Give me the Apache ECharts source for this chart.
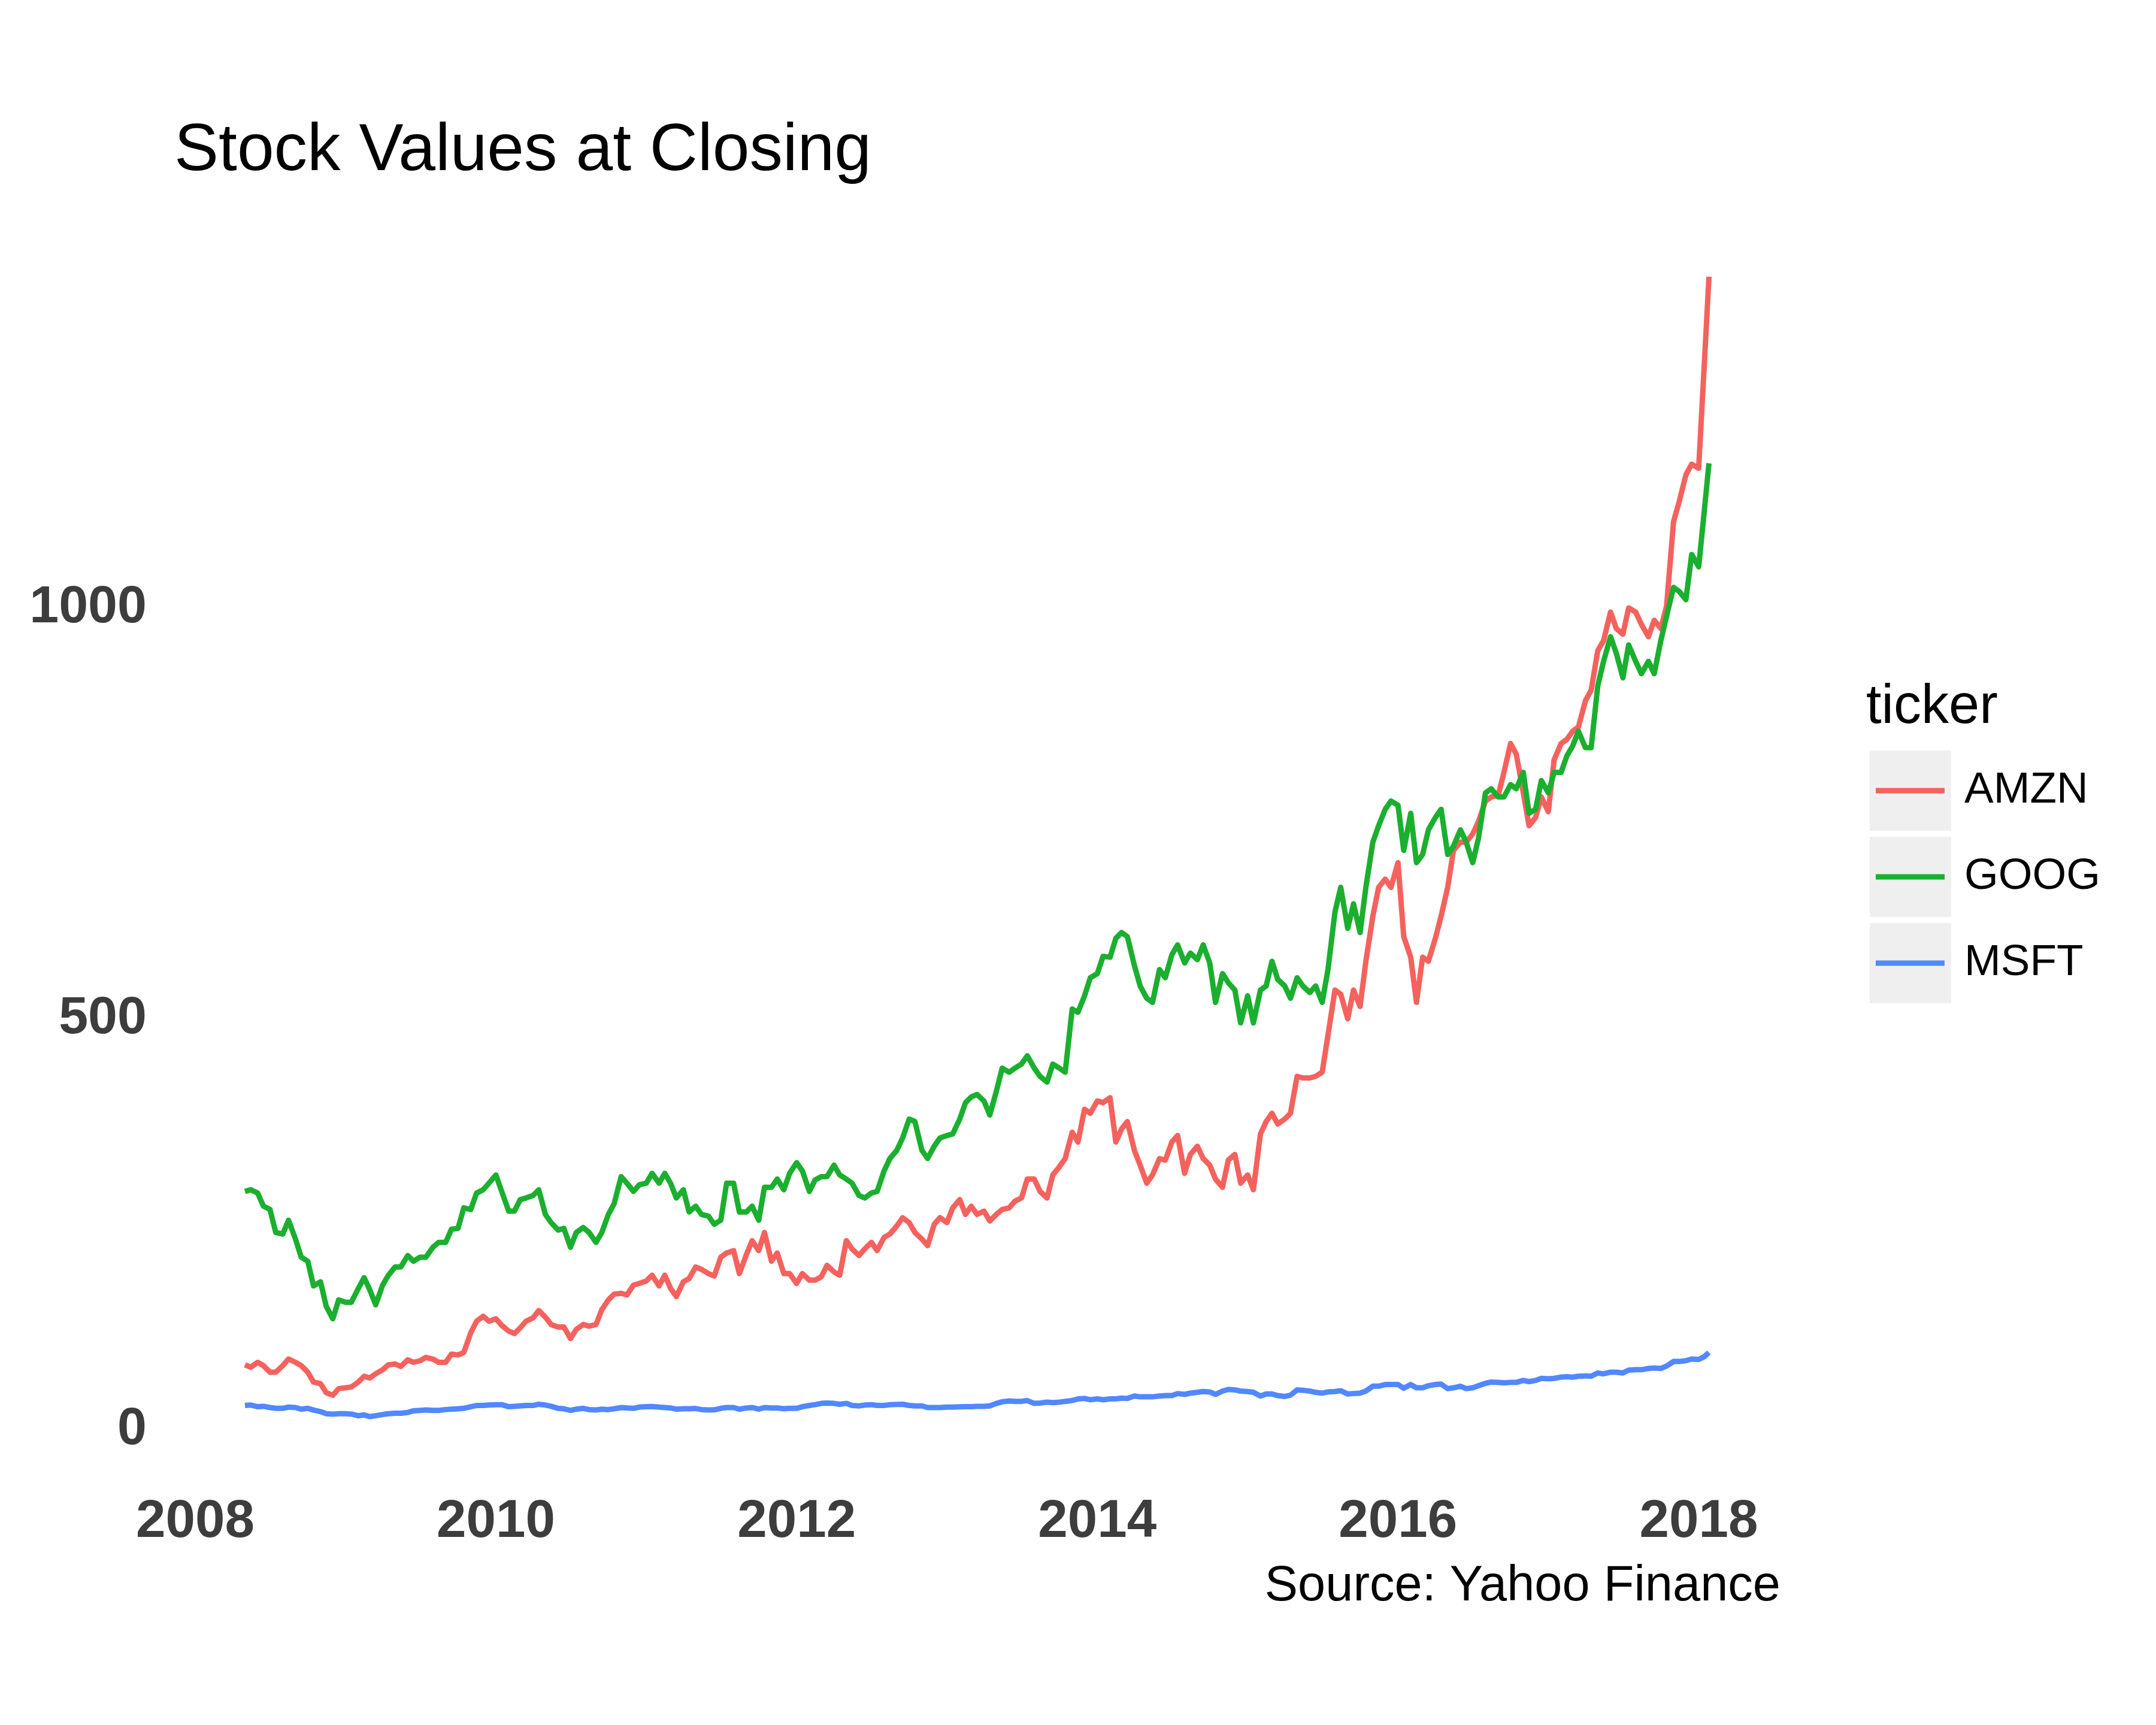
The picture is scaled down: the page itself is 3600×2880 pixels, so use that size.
<!DOCTYPE html>
<html><head><meta charset="utf-8">
<script src="https://cdn.jsdelivr.net/npm/echarts@6/dist/echarts.min.js"></script>
<style>html,body{margin:0;padding:0;background:#fff}#c{width:3600px;height:2880px}</style>
</head><body><div id="c"></div>
<script>
const dates = [
'2008-05-01','2008-05-15','2008-06-01','2008-06-15','2008-07-01','2008-07-15','2008-08-01','2008-08-15','2008-09-01','2008-09-15','2008-10-01','2008-10-15','2008-11-01','2008-11-15','2008-12-01','2008-12-15',
'2009-01-01','2009-01-15','2009-02-01','2009-02-15','2009-03-01','2009-03-15','2009-04-01','2009-04-15','2009-05-01','2009-05-15','2009-06-01','2009-06-15','2009-07-01','2009-07-15','2009-08-01','2009-08-15','2009-09-01','2009-09-15','2009-10-01','2009-10-15','2009-11-01','2009-11-15','2009-12-01','2009-12-15',
'2010-01-01','2010-01-15','2010-02-01','2010-02-15','2010-03-01','2010-03-15','2010-04-01','2010-04-15','2010-05-01','2010-05-15','2010-06-01','2010-06-15','2010-07-01','2010-07-15','2010-08-01','2010-08-15','2010-09-01','2010-09-15','2010-10-01','2010-10-15','2010-11-01','2010-11-15','2010-12-01','2010-12-15',
'2011-01-01','2011-01-15','2011-02-01','2011-02-15','2011-03-01','2011-03-15','2011-04-01','2011-04-15','2011-05-01','2011-05-15','2011-06-01','2011-06-15','2011-07-01','2011-07-15','2011-08-01','2011-08-15','2011-09-01','2011-09-15','2011-10-01','2011-10-15','2011-11-01','2011-11-15','2011-12-01','2011-12-15',
'2012-01-01','2012-01-15','2012-02-01','2012-02-15','2012-03-01','2012-03-15','2012-04-01','2012-04-15','2012-05-01','2012-05-15','2012-06-01','2012-06-15','2012-07-01','2012-07-15','2012-08-01','2012-08-15','2012-09-01','2012-09-15','2012-10-01','2012-10-15','2012-11-01','2012-11-15','2012-12-01','2012-12-15',
'2013-01-01','2013-01-15','2013-02-01','2013-02-15','2013-03-01','2013-03-15','2013-04-01','2013-04-15','2013-05-01','2013-05-15','2013-06-01','2013-06-15','2013-07-01','2013-07-15','2013-08-01','2013-08-15','2013-09-01','2013-09-15','2013-10-01','2013-10-15','2013-11-01','2013-11-15','2013-12-01','2013-12-15',
'2014-01-01','2014-01-15','2014-02-01','2014-02-15','2014-03-01','2014-03-15','2014-04-01','2014-04-15','2014-05-01','2014-05-15','2014-06-01','2014-06-15','2014-07-01','2014-07-15','2014-08-01','2014-08-15','2014-09-01','2014-09-15','2014-10-01','2014-10-15','2014-11-01','2014-11-15','2014-12-01','2014-12-15',
'2015-01-01','2015-01-15','2015-02-01','2015-02-15','2015-03-01','2015-03-15','2015-04-01','2015-04-15','2015-05-01','2015-05-15','2015-06-01','2015-06-15','2015-07-01','2015-07-15','2015-08-01','2015-08-15','2015-09-01','2015-09-15','2015-10-01','2015-10-15','2015-11-01','2015-11-15','2015-12-01','2015-12-15',
'2016-01-01','2016-01-15','2016-02-01','2016-02-15','2016-03-01','2016-03-15','2016-04-01','2016-04-15','2016-05-01','2016-05-15','2016-06-01','2016-06-15','2016-07-01','2016-07-15','2016-08-01','2016-08-15','2016-09-01','2016-09-15','2016-10-01','2016-10-15','2016-11-01','2016-11-15','2016-12-01','2016-12-15',
'2017-01-01','2017-01-15','2017-02-01','2017-02-15','2017-03-01','2017-03-15','2017-04-01','2017-04-15','2017-05-01','2017-05-15','2017-06-01','2017-06-15','2017-07-01','2017-07-15','2017-08-01','2017-08-15','2017-09-01','2017-09-15','2017-10-01','2017-10-15','2017-11-01','2017-11-15','2017-12-01','2017-12-15',
'2018-01-01','2018-01-15','2018-01-26'
];

const amzn = [
79,76,82,78,70,70,78,86,82,78,70,58,56,45,42,50,
51,52,58,65,63,68,73,79,80,77,85,82,84,88,86,82,82,92,91,94,118,132,138,132,
135,127,120,117,124,132,136,145,137,128,125,125,111,122,128,126,128,146,158,165,166,164,176,178,
181,188,175,188,172,162,180,184,198,195,190,187,210,215,218,190,213,230,218,240,205,215,190,190,
178,190,182,182,186,200,192,188,230,220,212,220,228,218,234,238,248,258,252,240,232,224,250,258,
252,270,280,262,272,262,266,254,262,268,270,278,282,305,305,290,282,310,320,330,362,350,390,385,
400,398,404,350,366,375,340,322,300,310,330,328,350,358,312,335,345,330,322,305,295,328,335,300,
310,292,360,375,385,372,378,385,430,428,428,430,435,480,535,530,500,535,515,570,625,660,670,660,
690,600,575,520,575,570,598,625,660,705,715,715,725,740,765,770,772,800,835,822,775,735,745,770,
752,815,835,840,850,855,887,900,948,960,995,975,968,1000,995,980,965,985,975,1002,1105,1130,1162,1175,
1170,1300,1403
];

const goog = [
290,292,288,272,268,240,238,255,232,210,205,175,180,150,135,158,
155,155,172,185,170,152,176,188,198,198,212,205,210,210,222,228,228,244,245,270,268,288,292,300,
310,290,266,266,280,282,285,292,262,252,243,245,222,240,246,240,228,240,262,275,308,300,290,298,
300,312,300,312,300,282,292,265,272,262,260,250,255,300,300,265,265,272,255,295,295,305,292,312,
325,315,290,304,308,308,322,310,305,300,285,282,288,290,315,330,340,355,378,375,340,330,345,355,
358,360,378,398,405,408,400,383,412,440,435,440,445,455,440,430,423,445,440,435,512,508,528,550,
555,576,575,598,605,600,565,540,525,520,560,550,578,590,568,580,572,590,568,520,555,544,535,495,
528,495,535,540,570,548,540,525,550,540,532,540,520,560,630,660,610,640,605,660,715,735,755,765,
760,705,750,690,700,730,745,755,700,710,730,715,690,720,775,780,770,770,785,780,800,750,755,790,
775,800,800,820,832,850,830,830,905,935,965,945,915,955,935,920,935,920,960,990,1025,1020,1010,1065,
1050,1120,1176
];

const msft = [
29.5,30,28,28.5,27,26,26,27.5,27,25,26,24,22,19.5,19,19.5,
19.5,19,17,18,16,17,18.5,19.5,20,20,21,23,23.5,24,23.5,23.5,24.5,25,25.5,26,28,29.5,29.5,30,
30.5,30.5,28,28.5,29,29.5,29.5,31,30,28.5,26,25.5,23.5,25,26,24.5,24,25,24.5,25.5,27,26.5,26,27.5,
28,28.3,27.5,27,26.5,25,25.5,25.5,25.8,24.5,24,24.2,26,27,27,25,26.5,27,25,27,26.5,26.5,25.5,26,
26,28,29.5,30.5,32,32.5,32,31,32,29.5,29,30,30.5,29.5,29.5,30.5,30.8,31,29.5,29,29,27,27,27,
27.5,27.5,27.8,28,28,28.5,28.5,29,32,34,35,34.5,34.5,35.5,32,32.5,33.5,33,33.5,34.5,35.5,37.5,38,36.5,
37.5,36.5,37.5,37.5,38.5,38,41,40,40,40,41,41.5,41.5,44,43,44.5,45.5,46.5,46,43,47,49,48.5,47,
46.5,45.5,41,43.5,43.5,41.5,40.5,42,48.5,48,47,45.5,44.5,46,46.5,47.5,43.5,44,44.5,47,53,53,55,55,
55,50.5,55,51,51,53.5,55,55.5,50,51,53,50,51,53.5,56.5,58,57.5,57,57.5,57.5,60,58.5,60,62.5,
62,62.5,64,64.5,64,65,65.5,65,69,68,70,70,69,72.5,73,73,74.5,75,74.5,77.5,83,83,84,86,
85.5,89,94
];

const tickers = ['AMZN', 'GOOG', 'MSFT'];
const colors = ['#F4625E', '#1BAF2F', '#5288FF'];
const titleText = 'Stock Values at Closing';
const legendTitle = 'ticker';
const captionText = 'Source: Yahoo Finance';

function decYear(s) {
  const p = s.split('-');
  const y = +p[0], m = +p[1], d = +p[2];
  const a = Date.UTC(y, 0, 1), b = Date.UTC(y + 1, 0, 1);
  return y + (Date.UTC(y, m - 1, d) - a) / (b - a);
}

const values = [amzn, goog, msft];
const FONT = "'Liberation Sans', Arial, Helvetica, sans-serif";

const chart = echarts.init(document.getElementById('c'), null, {renderer: 'canvas', width: 3600, height: 2880});

const keyBoxes = [1253, 1397, 1541].map(function (y) {
  return {type: 'rect', z: 1, shape: {x: 3122, y: y, width: 136, height: 134}, style: {fill: '#EFEFEF'}};
});

chart.setOption({
  animation: false,
  backgroundColor: '#ffffff',
  title: {
    text: titleText,
    left: 291, top: 198,
    padding: 0,
    textStyle: {fontFamily: FONT, fontSize: 111, fontWeight: 'normal', color: '#000000'}
  },
  grid: {left: 326, top: 397.6, width: 2661, height: 1989.4, containLabel: false},
  xAxis: {
    type: 'value', min: 2008, max: 2018.6, interval: 2,
    axisLine: {show: false}, axisTick: {show: false}, splitLine: {show: false},
    axisLabel: {
      fontFamily: FONT, fontSize: 89, fontWeight: 'bold', color: '#3D3D3D', margin: 110,
      formatter: function (v) { return (Math.abs(v % 2) < 1e-9) ? String(v) : ''; }
    }
  },
  yAxis: {
    type: 'value', min: 0, max: 1450, interval: 500,
    axisLine: {show: false}, axisTick: {show: false}, splitLine: {show: false},
    axisLabel: {
      fontFamily: FONT, fontSize: 88, fontWeight: 'bold', color: '#3D3D3D', margin: 81,
      formatter: function (v) { return (v % 500 === 0) ? String(v) : ''; }
    }
  },
  legend: {
    data: tickers,
    orient: 'vertical', left: 3132, top: 1253, padding: 0, itemGap: 10,
    itemWidth: 115, itemHeight: 9, icon: 'rect', selectedMode: false, z: 10,
    textStyle: {fontFamily: FONT, fontSize: 73, color: '#000000', lineHeight: 134, padding: [0, 0, 0, 28]}
  },
  graphic: keyBoxes.concat([
    {type: 'text', z: 2, x: 3116, y: 1136, style: {text: legendTitle, fontFamily: FONT, fontSize: 92, fill: '#000000', verticalAlign: 'top', align: 'left'}},
    {type: 'text', z: 2, x: 2973, y: 2608, style: {text: captionText, fontFamily: FONT, fontSize: 83, fill: '#000000', verticalAlign: 'top', align: 'right'}}
  ]),
  series: tickers.map(function (t, i) {
    return {
      name: t, type: 'line', showSymbol: false, symbol: 'none', clip: false,
      data: dates.map(function (d, k) { return [decYear(d), values[i][k]]; }),
      lineStyle: {width: 9, color: colors[i], join: 'round'},
      itemStyle: {color: colors[i]}
    };
  })
});
</script>
</body></html>
